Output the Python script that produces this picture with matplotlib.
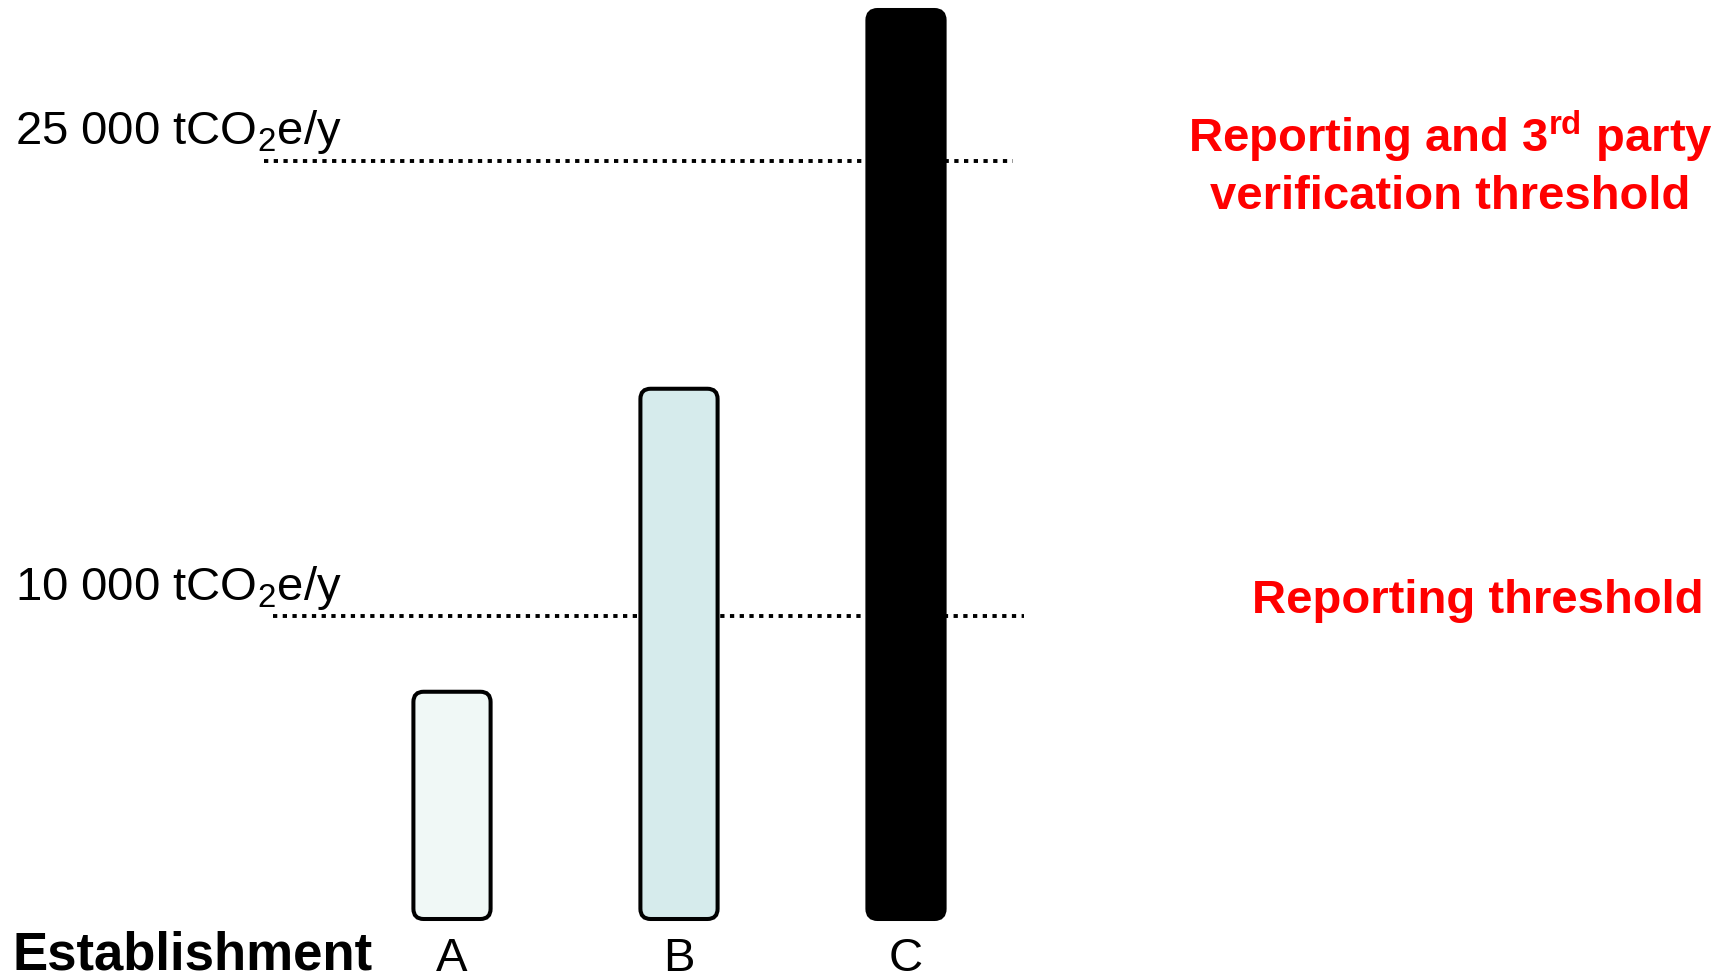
import matplotlib
matplotlib.use("Agg")
import matplotlib.pyplot as plt
from matplotlib.patches import FancyBboxPatch

plt.rcParams['font.family'] = ['Liberation Sans', 'DejaVu Sans']
plt.rcParams['mathtext.fontset'] = 'custom'
plt.rcParams['mathtext.rm'] = 'Liberation Sans'
plt.rcParams['mathtext.bf'] = 'Liberation Sans:bold'

# donnees
etablissements = ["A", "B", "C"]
emissions = [7500, 17500, 30000]
couleurs = ["#f0f8f6", "#d6ebec", "#000000"]
seuils = [10000, 25000]
seuils_labels = [r"10 000 tCO$_{\mathrm{2}}$e/y", r"25 000 tCO$_{\mathrm{2}}$e/y"]

# echelle : 227 px par barre, 0.0303 px par tCO2e
px_x = 227
px_y = 0.0303

fig = plt.figure(figsize=(17.26, 9.8), dpi=100)
ax = fig.add_axes([0, 0, 1, 1])
ax.set_xlim(-452 / px_x, (1726 - 452) / px_x)
ax.set_ylim(-61 / px_y, (980 - 61) / px_y)
ax.axis("off")

# lignes de seuil pointillees
pointille = (0, (1.1, 1.4))
ax.hlines(seuils[0], -0.79, 2.52, colors="black", linestyles=pointille, linewidth=2.8, zorder=1)
ax.hlines(seuils[1], -0.83, 2.47, colors="black", linestyles=pointille, linewidth=2.8, zorder=1)

# barres (coins arrondis)
bars = ax.bar(range(len(etablissements)), emissions, width=0.34, color=couleurs)
for b in bars:
    x, y = b.get_x(), b.get_y()
    w, h = b.get_width(), b.get_height()
    b.set_visible(False)
    p = FancyBboxPatch((x, y), w, h,
                       boxstyle="round,pad=0,rounding_size=0.045",
                       mutation_aspect=px_x / px_y,
                       facecolor=b.get_facecolor(), edgecolor="black",
                       linewidth=2.9, zorder=3)
    ax.add_patch(p)

for i, lab in enumerate(etablissements):
    ax.text(i, -1700, lab, ha="center", va="baseline", fontsize=34)

fig.text(13 / 1726, 11 / 980, "Establishment", fontsize=38, fontweight="bold",
         ha="left", va="baseline")

fig.text(15 / 1726, (980 - 600) / 980, seuils_labels[0], fontsize=34, ha="left", va="baseline")
fig.text(15 / 1726, (980 - 144) / 980, seuils_labels[1], fontsize=34, ha="left", va="baseline")

rouge = "#ff0000"
fig.text(1450 / 1726, (980 - 152) / 980, r"Reporting and 3$^{\mathbf{rd}}$ party",
         fontsize=34, fontweight="bold", color=rouge, ha="center", va="baseline")
fig.text(1450 / 1726, (980 - 209) / 980, "verification threshold",
         fontsize=34, fontweight="bold", color=rouge, ha="center", va="baseline")
fig.text(1478 / 1726, (980 - 613) / 980, "Reporting threshold",
         fontsize=34, fontweight="bold", color=rouge, ha="center", va="baseline")

fig.savefig("out.png", dpi=100)
